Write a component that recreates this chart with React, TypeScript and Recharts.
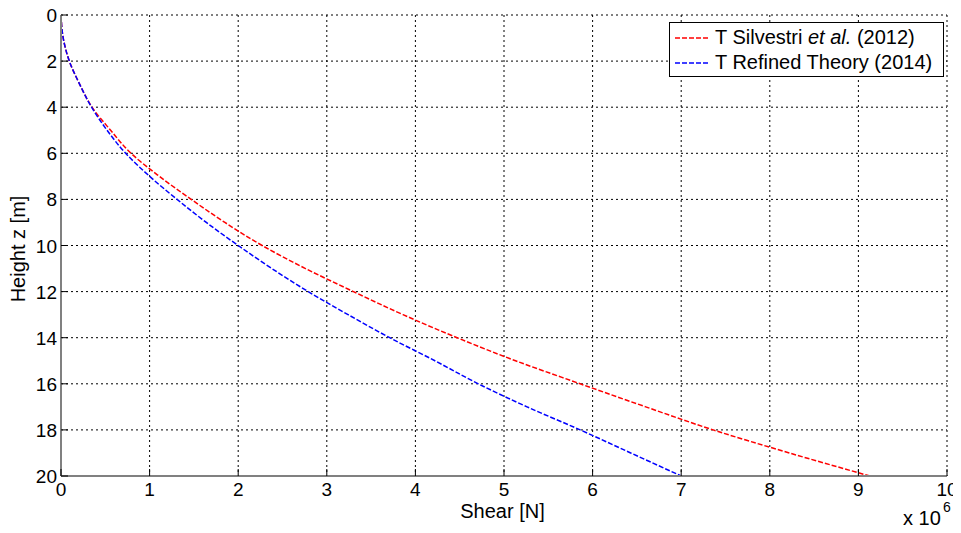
import React from 'react';
import {
  LineChart,
  Line,
  XAxis,
  YAxis,
  CartesianGrid,
} from 'recharts';

// height z [m]
const heights = [0, 1, 2, 3, 4, 5, 6, 7, 8, 9, 10, 11, 12, 13, 14, 15, 16, 17, 18, 19, 20];
// shear [x 10^6 N]
const silvestri = [0, 0.025, 0.094, 0.21, 0.35, 0.56, 0.79, 1.11, 1.47, 1.85, 2.27, 2.76, 3.3, 3.86, 4.47, 5.13, 5.86, 6.6, 7.36, 8.22, 9.13];
const refined = [0, 0.025, 0.094, 0.21, 0.345, 0.52, 0.73, 1.0, 1.31, 1.64, 2.0, 2.38, 2.79, 3.24, 3.71, 4.22, 4.71, 5.26, 5.86, 6.43, 7.0];

const xTicks = [0, 1, 2, 3, 4, 5, 6, 7, 8, 9, 10];
const yTicks = [0, 2, 4, 6, 8, 10, 12, 14, 16, 18, 20];

const rows = heights.map((z, i) => ({ z, silvestri: silvestri[i], refined: refined[i] }));

const FONT = '"Liberation Sans", Arial, sans-serif';
const AXIS_GRAY = '#808080';
const TICK_FS = 19;

const BottomTick = (props: any) => {
  const { x, y, payload } = props;
  return (
    <g>
      <line x1={x} y1={y} x2={x} y2={y - 7} stroke="#000" strokeWidth={1} />
      <text x={x} y={y + 20} textAnchor="middle" fontSize={TICK_FS} fontFamily={FONT} fill="#000">
        {payload.value}
      </text>
    </g>
  );
};

const LeftTick = (props: any) => {
  const { x, y, payload } = props;
  return (
    <g>
      <line x1={x} y1={y} x2={x + 7} y2={y} stroke="#000" strokeWidth={1} />
      <text x={x - 4} y={y + 7} textAnchor="end" fontSize={TICK_FS} fontFamily={FONT} fill="#000">
        {payload.value}
      </text>
    </g>
  );
};

const TopTick = (props: any) => {
  const { x, y } = props;
  return <line x1={x} y1={y} x2={x} y2={y + 7} stroke="#000" strokeWidth={1} />;
};

const RightTick = (props: any) => {
  const { x, y } = props;
  return <line x1={x} y1={y} x2={x - 7} y2={y} stroke="#000" strokeWidth={1} />;
};

const legendItems = [
  { label: <>T Silvestri <i>et al.</i> (2012)</>, color: '#ff0000' },
  { label: <>T Refined Theory (2014)</>, color: '#0000ff' },
];

const LegendBox = () => (
  <div
    style={{
      position: 'absolute',
      left: 661,
      top: 22,
      width: 275,
      height: 55,
      boxSizing: 'border-box',
      border: '1px solid #000',
      background: '#fff',
      padding: '2px 0 0 5px',
      fontFamily: FONT,
      fontSize: 20,
      color: '#000',
      lineHeight: '25px',
    }}
  >
    {legendItems.map((it, i) => (
      <div key={i} style={{ display: 'flex', alignItems: 'center', whiteSpace: 'nowrap' }}>
        <svg width={34} height={10} style={{ marginRight: 6 }}>
          <line x1={0} y1={5} x2={34} y2={5} stroke={it.color} strokeWidth={1.5} strokeDasharray="5 2" />
        </svg>
        <span>{it.label}</span>
      </div>
    ))}
  </div>
);

export default function App() {
  return (
    <div style={{ position: 'relative', width: 953, height: 528, marginTop: -8, fontFamily: FONT }}>
      <LineChart
        width={953}
        height={528}
        layout="vertical"
        data={rows}
        margin={{ top: 15, right: 14, bottom: 22, left: 0 }}
      >
        <CartesianGrid stroke="#000" strokeDasharray="2 3" strokeWidth={1} />
        <XAxis
          type="number"
          domain={[0, 10]}
          ticks={xTicks}
          interval={0}
          height={30}
          tickSize={0}
          tickMargin={0}
          axisLine={{ stroke: AXIS_GRAY, strokeWidth: 2 }}
          tick={<BottomTick />}
        />
        <XAxis
          xAxisId="top"
          orientation="top"
          type="number"
          domain={[0, 10]}
          ticks={xTicks}
          interval={0}
          height={0}
          tickSize={0}
          axisLine={{ stroke: '#000', strokeWidth: 1 }}
          tick={<TopTick />}
        />
        <YAxis
          type="number"
          dataKey="z"
          domain={[0, 20]}
          ticks={yTicks}
          interval={0}
          width={53}
          tickSize={0}
          tickMargin={0}
          axisLine={{ stroke: AXIS_GRAY, strokeWidth: 2 }}
          tick={<LeftTick />}
        />
        <YAxis
          yAxisId="right"
          orientation="right"
          type="number"
          dataKey="z"
          domain={[0, 20]}
          ticks={yTicks}
          interval={0}
          width={0}
          tickSize={0}
          axisLine={{ stroke: AXIS_GRAY, strokeWidth: 2 }}
          tick={<RightTick />}
        />
        <Line
          dataKey="silvestri"
          type="monotone"
          stroke="#ff0000"
          strokeWidth={1.5}
          strokeDasharray="5 2"
          dot={false}
          activeDot={false}
          isAnimationActive={false}
        />
        <Line
          dataKey="refined"
          type="monotone"
          stroke="#0000ff"
          strokeWidth={1.5}
          strokeDasharray="5 2"
          dot={false}
          activeDot={false}
          isAnimationActive={false}
        />
      </LineChart>
      <LegendBox />
      <svg
        width={953}
        height={528}
        style={{ position: 'absolute', left: 0, top: 0, pointerEvents: 'none' }}
        fontFamily={FONT}
      >
        <text x={494.5} y={518} textAnchor="middle" fontSize={20} fill="#000">
          Shear [N]
        </text>
        <text
          transform="translate(17,249) rotate(-90)"
          textAnchor="middle"
          fontSize={20}
          fill="#000"
        >
          Height z [m]
        </text>
        <text x={895} y={525} fontSize={20} fill="#000">
          x 10
        </text>
        <text x={935} y={512} fontSize={14} fill="#000">
          6
        </text>
      </svg>
    </div>
  );
}
